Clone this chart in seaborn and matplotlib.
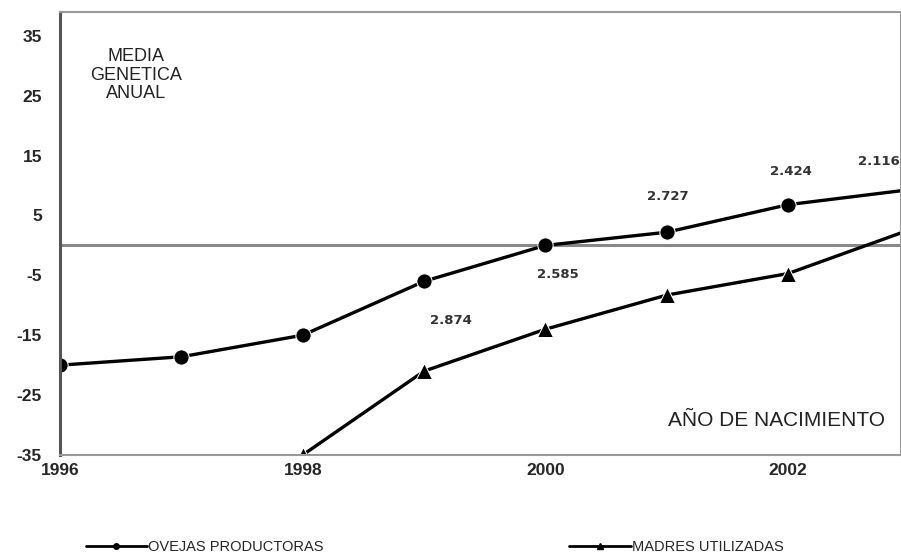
import numpy as np
import pandas as pd
import matplotlib
matplotlib.use('Agg')
import matplotlib.pyplot as plt
import seaborn as sns
from matplotlib.lines import Line2D

# Data
years = [1996, 1997, 1998, 1999, 2000, 2001, 2002, 2003]
ovejas = [-20, -18.6, -15, -6, 0, 2.2, 6.8, 9.3]
madres = [np.nan, np.nan, -35, -21, -14, -8.3, -4.7, 2.6]
label_years = [1999.22, 2000.1, 2001.01, 2002.02, 2002.92]
label_texts = ['2.874', '2.585', '2.727', '2.424', '2.116']
label_y = [-12.5, -4.8, 8.2, 12.3, 14.0]
y_ticks = [35, 25, 15, 5, -5, -15, -25, -35]
x_labels = [1996, 1998, 2000, 2002]

sns.set_style("white")
plt.rcParams['font.family'] = ['Liberation Sans', 'DejaVu Sans']
plt.rcParams['axes.unicode_minus'] = False

df = pd.DataFrame({'year': years, 'OVEJAS PRODUCTORAS': ovejas, 'MADRES UTILIZADAS': madres})

fig = plt.figure(figsize=(9.01, 5.56), dpi=100)
ax = fig.add_axes([0.0666, 0.1817, 0.9334, 0.797])

sns.lineplot(x='year', y='OVEJAS PRODUCTORAS', data=df, color='black', linewidth=2.4,
             marker='o', markersize=11, ax=ax)
sns.lineplot(x='year', y='MADRES UTILIZADAS', data=df.dropna(), color='black', linewidth=2.4,
             marker='^', markersize=11, ax=ax)

ax.axhline(0, color='#888888', linewidth=2.2, zorder=1)

for i, (x, y, t) in enumerate(zip(label_years, label_y, label_texts)):
    ax.text(x, y, t, fontsize=9.5, fontweight='bold', color='#333333',
            ha='right' if i == len(label_texts) - 1 else 'center', va='center',
            family='DejaVu Sans')

ax.text(1996.63, 28.4, 'MEDIA\nGENETICA\nANUAL', fontsize=13, ha='center', va='center',
        linespacing=1.12, color='#222222')
ax.text(2002.8, -29.2, 'AÑO DE NACIMIENTO', fontsize=15, ha='right', va='center', color='#222222')

ax.set_xlim(1996, 2002.93)
ax.set_ylim(-35, 39)
ax.set_yticks(y_ticks)
ax.set_xticks(x_labels)
ax.set_xticklabels([str(x) for x in x_labels])
ax.tick_params(axis='y', direction='out', length=5, width=1.2, labelsize=12.5, pad=8)
ax.tick_params(axis='x', length=0, labelsize=12.5, pad=6)
for lab in ax.get_xticklabels() + ax.get_yticklabels():
    lab.set_fontweight('bold')
ax.set_xlabel('')
ax.set_ylabel('')

for s in ['top', 'bottom', 'right']:
    ax.spines[s].set_color('#999999')
    ax.spines[s].set_linewidth(1.5)
ax.spines['left'].set_color('#555555')
ax.spines['left'].set_linewidth(2.2)

h_ovejas = Line2D([], [], color='black', linewidth=2, marker='o', markersize=4)
h_madres = Line2D([], [], color='black', linewidth=2, marker='^', markersize=5)
fig.legend([h_ovejas], ['OVEJAS PRODUCTORAS'], loc='center left',
           bbox_to_anchor=(0.095, 0.016), frameon=False, fontsize=10.5,
           handlelength=4.2, handletextpad=0.1, borderpad=0, borderaxespad=0)
fig.legend([h_madres], ['MADRES UTILIZADAS'], loc='center left',
           bbox_to_anchor=(0.632, 0.016), frameon=False, fontsize=10.5,
           handlelength=4.2, handletextpad=0.1, borderpad=0, borderaxespad=0)

fig.savefig('out.png', dpi=100)
